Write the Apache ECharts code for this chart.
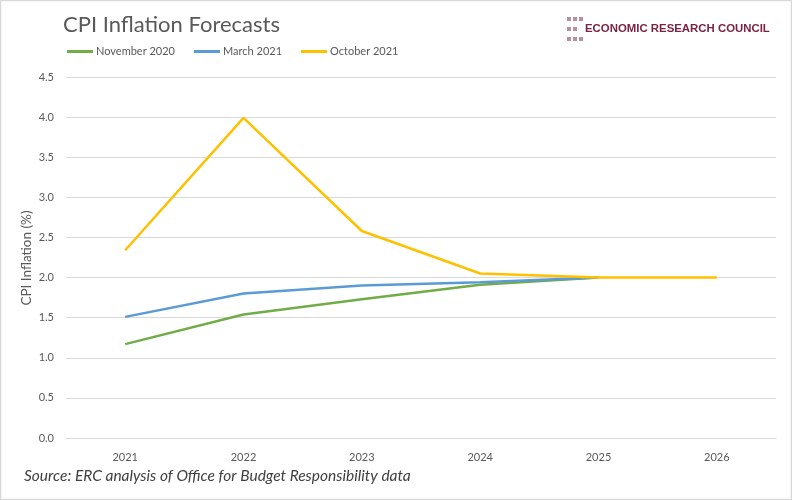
<!DOCTYPE html>
<html><head><meta charset="utf-8">
<script src="https://cdn.jsdelivr.net/npm/echarts@6/dist/echarts.min.js"></script>
<style>html,body{margin:0;padding:0;background:#fff}#c{width:792px;height:500px}</style>
</head><body><div id="c"></div>
<script>
const categories = ['2021','2022','2023','2024','2025','2026'];
const nov2020 = [1.17, 1.54, 1.73, 1.91, 2.0, null];
const mar2021 = [1.51, 1.80, 1.90, 1.94, 2.0, null];
const oct2021 = [2.34, 3.99, 2.58, 2.05, 2.0, 2.0];
const seriesNames = ['November 2020','March 2021','October 2021'];
const yAxisTitle = 'CPI Inflation (%)';
const colors = ['#70ad47','#5b9bd5','#ffc000'];
const font = 'Lato, "Liberation Sans", sans-serif';

const chart = echarts.init(document.getElementById('c'), null, {renderer:'canvas'});
const logoSquares = [];
const cols = [567, 573, 579];
const rows = [17, 27, 37];
rows.forEach((y, ri) => cols.forEach((x, ci) => {
  if (ri === 1 && ci === 2) return;
  logoSquares.push({type:'rect', shape:{x:x, y:y, width:4, height:4}, style:{fill:'#b8909c'}});
}));
chart.setOption({
  animation:false,
  backgroundColor:'#fff',
  title:{text:'CPI Inflation Forecasts', left:58, top:9,
    textStyle:{fontFamily:font, fontSize:22, fontWeight:'normal', color:'#595959'}},
  legend:{left:62, top:41, itemWidth:26, itemHeight:3, itemGap:19, icon:'rect',
    textStyle:{fontFamily:font, fontSize:11, color:'#595959', padding:[0,0,0,-2]},
    data:seriesNames},
  grid:{left:66, right:16, top:77, bottom:62, containLabel:false},
  xAxis:{type:'category', data:categories, boundaryGap:true,
    axisLine:{show:true, lineStyle:{color:'#d9d9d9'}}, axisTick:{show:false},
    axisLabel:{fontFamily:font, fontSize:11, color:'#595959', margin:14}},
  yAxis:{type:'value', min:0, max:4.5, interval:0.5,
    axisLine:{show:false}, axisTick:{show:false},
    axisLabel:{fontFamily:font, fontSize:11, color:'#595959', margin:12,
      formatter:v=>v.toFixed(1)},
    splitLine:{lineStyle:{color:'#d9d9d9', width:1}}},
  series:[
    {name:seriesNames[0], type:'line', data:nov2020, color:colors[0], showSymbol:false, symbol:'none', lineStyle:{width:2.5}},
    {name:seriesNames[1], type:'line', data:mar2021, color:colors[1], showSymbol:false, symbol:'none', lineStyle:{width:2.5}},
    {name:seriesNames[2], type:'line', data:oct2021, color:colors[2], showSymbol:false, symbol:'none', lineStyle:{width:2.5}}
  ],
  graphic:[
    {type:'rect', shape:{x:0.5, y:0.5, width:791, height:499}, style:{fill:null, stroke:'#d9d9d9', lineWidth:1.5}, silent:true},
    ...logoSquares,
    {type:'text', left:585, top:23, style:{text:'ECONOMIC RESEARCH COUNCIL', fill:'#7b2346',
      font:'bold 11.4px "Liberation Sans", Arial, sans-serif'}},
    {type:'text', x:27, y:258, rotation:Math.PI/2,
      style:{text:yAxisTitle, fill:'#595959', align:'center', verticalAlign:'middle',
        font:'13.5px Lato, "Liberation Sans", sans-serif'}},
    {type:'text', left:24, top:468, style:{text:'Source: ERC analysis of Office for Budget Responsibility data',
      fill:'#404040', font:'italic 15.5px Lato, "Liberation Sans", sans-serif'}}
  ]
});
</script></body></html>
